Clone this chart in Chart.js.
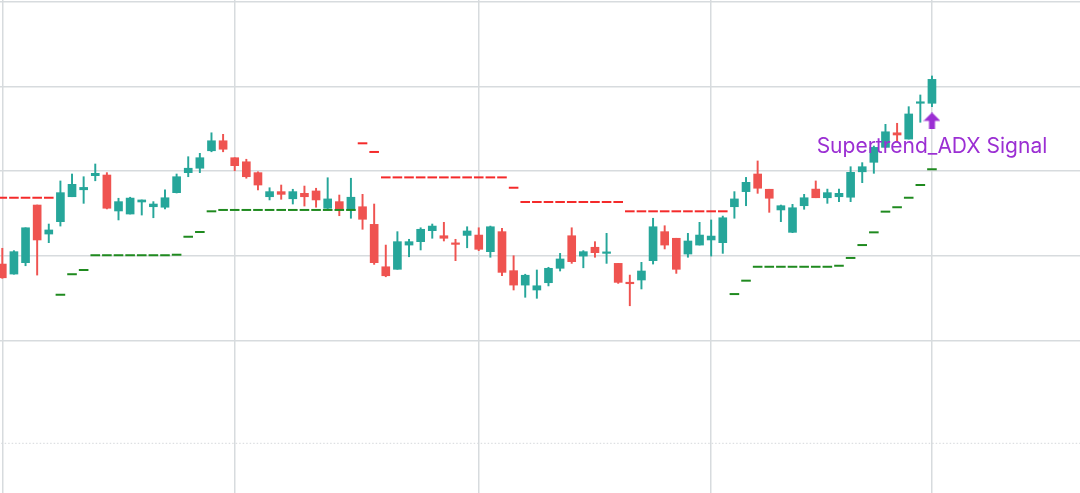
<!DOCTYPE html>
<html lang="en">
<head>
  <meta charset="UTF-8">
  <title>Supertrend ADX</title>
  <style>
    body {
      margin: 0;
      background: #fff;
    }
    #chart-container {
      width: 1080px;
      height: 493px;
    }
  </style>
  <script src="https://cdn.jsdelivr.net/npm/chart.js"></script>
</head>
<body>
  <div id="chart-container">
    <canvas id="candles"></canvas>
  </div>

  <script>
    // OHLC per bar, index 0..80
    const opens = [109.52,108.93,109.60,113.00,111.29,112.02,113.49,113.90,114.73,114.77,
      112.65,112.47,113.18,112.90,112.87,113.73,114.91,115.17,116.20,116.79,
      115.79,115.55,114.91,113.49,113.79,113.37,113.69,113.83,112.81,113.20,
      112.75,112.90,111.86,109.36,109.21,110.64,110.84,111.49,111.19,110.74,
      111.21,111.23,110.25,111.43,109.13,108.28,107.99,108.42,109.27,111.19,
      109.99,110.51,110.15,109.56,108.42,108.58,109.72,111.43,111.04,110.11,
      110.64,110.94,110.78,112.90,113.79,114.83,113.93,112.71,111.39,112.96,
      113.94,113.43,113.49,113.46,114.96,115.52,116.40,117.26,116.89,119.00,
      119.00];
    const highs = [110.45,110.31,111.66,113.00,111.88,114.42,114.83,114.67,115.42,114.91,
      113.40,113.46,113.30,113.20,113.89,114.83,115.85,116.05,117.26,117.17,
      115.79,115.70,114.96,114.02,114.18,113.93,114.12,113.99,114.61,113.59,
      114.58,113.63,113.06,110.64,111.43,110.98,111.66,111.88,111.98,110.98,
      111.72,111.66,111.76,111.63,110.01,108.92,109.17,109.33,110.15,111.66,
      110.31,110.84,111.33,109.56,108.87,109.62,112.22,111.78,111.04,111.33,
      111.98,112.12,112.35,113.79,114.63,115.60,113.93,113.00,113.04,113.63,
      114.42,113.94,113.94,115.26,115.50,116.48,117.76,117.82,118.80,119.49,
      120.61];
    const lows = [108.68,108.92,109.42,108.87,110.78,111.76,113.49,113.10,114.43,112.77,
      112.12,112.47,112.41,112.25,112.77,113.71,114.67,114.91,116.14,116.14,
      115.02,114.58,113.89,113.30,113.34,113.06,112.94,112.87,112.75,112.37,
      112.22,111.57,109.50,108.77,109.21,109.95,110.35,111.04,110.88,109.72,
      110.48,110.31,109.92,108.83,107.99,107.56,107.50,108.23,109.11,109.56,
      109.30,109.92,109.56,108.38,107.06,108.05,109.52,110.41,108.97,109.92,
      110.64,109.99,110.15,112.22,112.96,113.69,112.57,112.02,111.37,112.75,
      113.43,113.10,113.20,113.20,114.32,114.87,116.40,116.73,116.89,117.88,
      118.80];
    const closes = [108.71,110.25,111.66,110.94,111.53,113.73,114.22,114.04,114.87,112.81,
      113.20,113.41,113.30,113.06,113.43,114.67,115.17,115.79,116.79,116.29,
      115.32,114.67,114.18,113.79,113.63,113.79,113.49,113.30,113.36,112.75,
      113.46,112.16,109.60,108.83,110.84,110.84,111.57,111.76,111.04,110.68,
      111.47,110.39,111.72,109.03,108.28,108.86,108.24,109.27,109.82,109.66,
      110.25,110.19,110.21,108.44,108.36,109.11,111.72,110.64,109.21,110.88,
      111.23,111.17,112.25,113.36,114.34,113.99,113.40,112.96,112.84,113.43,
      113.43,113.73,113.69,114.93,115.26,116.40,117.32,117.13,118.37,119.03,
      120.41];

    // supertrend bands (null = band not active)
    const upperTrend = [113.43,113.43,113.43,113.43,113.43,null,null,null,null,null,
      null,null,null,null,null,null,null,null,null,null,
      null,null,null,null,null,null,null,null,null,null,
      null,116.64,116.13,114.63,114.63,114.63,114.63,114.63,114.63,114.63,
      114.63,114.63,114.63,114.63,114.02,113.18,113.18,113.18,113.18,113.18,
      113.18,113.18,113.18,113.18,112.63,112.63,112.63,112.63,112.63,112.63,
      112.63,112.63,112.63,null,null,null,null,null,null,null,
      null,null,null,null,null,null,null,null,null,null,
      null];
    const lowerTrend = [null,null,null,null,null,107.71,108.92,109.17,110.04,110.04,
      110.04,110.04,110.04,110.04,110.04,110.07,111.13,111.41,112.63,112.71,
      112.71,112.71,112.71,112.71,112.71,112.71,112.71,112.71,112.71,112.71,
      112.71,null,null,null,null,null,null,null,null,null,
      null,null,null,null,null,null,null,null,null,null,
      null,null,null,null,null,null,null,null,null,null,
      null,null,null,107.75,108.54,109.36,109.36,109.36,109.36,109.36,
      109.36,109.36,109.42,109.88,110.64,111.39,112.61,112.87,113.43,114.18,
      115.11];

    const monthTicks = [0, 20, 41, 61, 80];
    const priceTicks = [105, 110, 115, 120, 125];
    const guideLevel = 98.95;

    const signalIndex = 80;
    const signalArrowPrice = 117.96;
    const signalTextPrice = 116.05;
    const signalLabel = "Supertrend_ADX Signal";

    const upColor = "#26a69a";
    const downColor = "#ef5350";
    const signalColor = "#9b2fd3";

    const candleColors = opens.map((o, i) => closes[i] >= o ? upColor : downColor);

    function toPoints(values) {
      const pts = [];
      values.forEach((v, i) => {
        if (v !== null) pts.push({ x: i, y: v });
      });
      return pts;
    }

    function makeArrow(color) {
      const c = document.createElement("canvas");
      c.width = 17;
      c.height = 17;
      const g = c.getContext("2d");
      g.fillStyle = color;
      g.beginPath();
      g.moveTo(8.5, 0);
      g.lineTo(17, 8.5);
      g.lineTo(11.5, 8.5);
      g.lineTo(11.5, 17);
      g.lineTo(5.5, 17);
      g.lineTo(5.5, 8.5);
      g.lineTo(0, 8.5);
      g.closePath();
      g.fill();
      return c;
    }

    const signalLabelPlugin = {
      id: "signalLabel",
      afterDatasetsDraw(chart) {
        const { ctx, scales } = chart;
        ctx.save();
        ctx.font = "21px Inter, 'Noto Sans', sans-serif";
        ctx.fillStyle = signalColor;
        ctx.textAlign = "center";
        ctx.textBaseline = "alphabetic";
        ctx.fillText(signalLabel, scales.x.getPixelForValue(signalIndex), scales.y.getPixelForValue(signalTextPrice));
        ctx.restore();
      }
    };

    const ctx = document.getElementById("candles").getContext("2d");
    new Chart(ctx, {
      type: "bar",
      data: {
        datasets: [
          {
            type: "line",
            data: [{ x: -1, y: guideLevel }, { x: 95, y: guideLevel }],
            borderColor: "#d5d8db",
            borderWidth: 1,
            borderDash: [1.5, 2],
            pointRadius: 0,
            order: 5
          },
          {
            label: "wick",
            data: opens.map((o, i) => ({ x: i, y: [lows[i], highs[i]] })),
            backgroundColor: candleColors,
            barThickness: 1.3,
            grouped: false,
            order: 3
          },
          {
            label: "body",
            data: opens.map((o, i) => ({ x: i, y: [o, closes[i]] })),
            backgroundColor: candleColors,
            barThickness: 8,
            minBarLength: 1.5,
            grouped: false,
            order: 2
          },
          {
            type: "line",
            label: "Supertrend up",
            data: toPoints(upperTrend),
            showLine: false,
            pointStyle: "line",
            pointRadius: 4.8,
            pointBorderWidth: 2,
            pointBorderColor: "#f42a2a",
            order: 1
          },
          {
            type: "line",
            label: "Supertrend down",
            data: toPoints(lowerTrend),
            showLine: false,
            pointStyle: "line",
            pointRadius: 4.8,
            pointBorderWidth: 2,
            pointBorderColor: "#1f8a1f",
            order: 1
          },
          {
            type: "scatter",
            label: "signal",
            data: [{ x: signalIndex, y: signalArrowPrice }],
            pointStyle: makeArrow(signalColor),
            order: 0
          }
        ]
      },
      options: {
        responsive: true,
        maintainAspectRatio: false,
        animation: false,
        events: [],
        layout: { padding: 0, autoPadding: false },
        plugins: {
          legend: { display: false },
          tooltip: { enabled: false }
        },
        scales: {
          x: {
            type: "linear",
            min: -0.198,
            max: 92.74,
            offset: false,
            afterBuildTicks: (scale) => {
              scale.ticks = monthTicks.map(v => ({ value: v }));
            },
            ticks: { display: false },
            border: { display: false },
            grid: { offset: false, drawTicks: false, color: "#d7dbde", lineWidth: 1.5 }
          },
          y: {
            min: 96.02,
            max: 125.09,
            afterBuildTicks: (scale) => {
              scale.ticks = priceTicks.map(v => ({ value: v }));
            },
            ticks: { display: false },
            border: { display: false },
            grid: { drawTicks: false, color: "#d7dbde", lineWidth: 1.5 }
          }
        }
      },
      plugins: [signalLabelPlugin]
    });
  </script>
</body>
</html>
